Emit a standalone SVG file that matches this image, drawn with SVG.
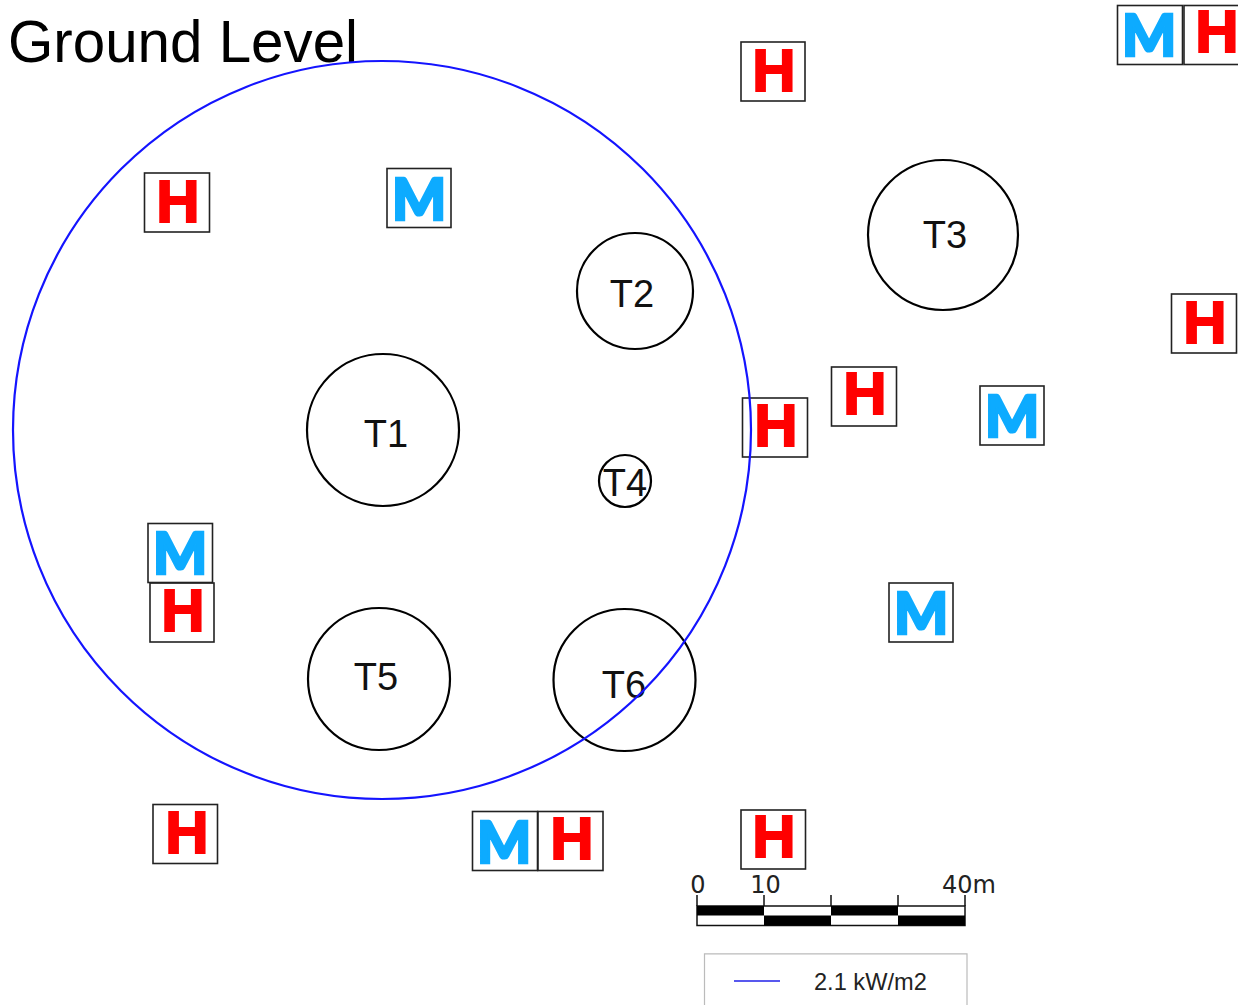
<svg xmlns="http://www.w3.org/2000/svg" width="1238" height="1005" viewBox="0 0 1238 1005">
<style>
.box{fill:#fff;stroke:#222;stroke-width:1.6}
.h{font:700 60px "Liberation Sans",Arial,sans-serif;fill:#ff0000;stroke:#ff0000;stroke-width:2;text-anchor:middle}
.m{font:900 57px Lato,"Liberation Sans",sans-serif;fill:#0dabff;stroke:#0dabff;stroke-width:2.600;text-anchor:middle}
.tank{fill:none;stroke:#000;stroke-width:2.2}
.t{font:38px "Liberation Sans",Arial,sans-serif;fill:#111;text-anchor:middle}
.sc{font:24px "DejaVu Sans",sans-serif;fill:#222}
</style>
<rect width="1238" height="1005" fill="#fff"/>
<g id="title"><text x="8" y="62" font-family="'Liberation Sans',Arial,sans-serif" font-size="58.300" fill="#000">Ground Level</text></g>
<g id="markers">
<g id="h1"><rect class="box" x="741" y="42" width="64" height="59"/><text class="h" x="774" y="91">H</text></g>
<g id="m1"><rect class="box" x="1117.500" y="5.500" width="65" height="59"/><text class="m" x="1149" y="55.500">M</text></g>
<g id="h2"><rect class="box" x="1184" y="5.500" width="65" height="59"/><text class="h" x="1217" y="52">H</text></g>
<g id="h3"><rect class="box" x="1171.500" y="294" width="65" height="59"/><text class="h" x="1205" y="343">H</text></g>
<g id="h4"><rect class="box" x="144.500" y="173" width="65" height="59"/><text class="h" x="178" y="222">H</text></g>
<g id="m2"><rect class="box" x="387" y="168.500" width="64" height="59"/><text class="m" x="419" y="219.500">M</text></g>
<g id="h5"><rect class="box" x="742.500" y="398" width="65" height="59"/><text class="h" x="776" y="446">H</text></g>
<g id="h6"><rect class="box" x="831.500" y="367" width="65" height="59"/><text class="h" x="865" y="414">H</text></g>
<g id="m3"><rect class="box" x="980" y="386" width="64" height="59"/><text class="m" x="1012" y="436.500">M</text></g>
<g id="h7"><rect class="box" x="150" y="583" width="64" height="59"/><text class="h" x="183" y="631">H</text></g>
<g id="m4"><rect class="box" x="148" y="523.500" width="64.500" height="59"/><text class="m" x="180" y="573.500">M</text></g>
<g id="m5"><rect class="box" x="889" y="583" width="64" height="59"/><text class="m" x="921" y="633.500">M</text></g>
<g id="h8"><rect class="box" x="153" y="804.500" width="64.500" height="59"/><text class="h" x="187" y="853">H</text></g>
<g id="m6"><rect class="box" x="472.500" y="811.500" width="65" height="59"/><text class="m" x="504" y="862.500">M</text></g>
<g id="h9"><rect class="box" x="538" y="811.500" width="65" height="59"/><text class="h" x="572" y="859">H</text></g>
<g id="h10"><rect class="box" x="741" y="810" width="64.500" height="59"/><text class="h" x="774" y="857">H</text></g>
</g>
<g id="tanks">
<g id="T1"><circle class="tank" cx="383" cy="430" r="76"/><text class="t" x="386" y="447">T1</text></g>
<g id="T2"><circle class="tank" cx="635" cy="291" r="58"/><text class="t" x="632" y="307">T2</text></g>
<g id="T3"><circle class="tank" cx="943" cy="235" r="75"/><text class="t" x="945" y="248">T3</text></g>
<g id="T4"><circle class="tank" cx="625" cy="481" r="26"/><text class="t" x="625" y="496">T4</text></g>
<g id="T5"><circle class="tank" cx="379" cy="679" r="71"/><text class="t" x="376" y="690">T5</text></g>
<g id="T6"><circle class="tank" cx="624.500" cy="680" r="71"/><text class="t" x="624" y="698">T6</text></g>
</g>
<g id="contour"><circle cx="382" cy="430" r="369" fill="none" stroke="#1414ff" stroke-width="2.200"/></g>
<g id="scalebar">
<rect x="697" y="906" width="268" height="19.500" fill="#fff" stroke="#111" stroke-width="1.500"/>
<path fill="#000" d="M697 906h67v9.500h-67zM831 906h67v9.500h-67zM764 915.500h67v10h-67zM898 915.500h67v10h-67z"/>
<path fill="none" stroke="#111" stroke-width="1.500" d="M697 895v11M764 895v11M831 895v11M898 895v11M965 895v11"/>
<text class="sc" x="698" y="892.500" text-anchor="middle">0</text>
<text class="sc" x="765.500" y="892.500" text-anchor="middle">10</text>
<text class="sc" x="942" y="892.500">40m</text>
</g>
<g id="legend">
<path fill="none" stroke="#bbb" stroke-width="1.200" d="M704.500 1005V953.800H967V1005"/>
<line x1="734" y1="981" x2="780" y2="981" stroke="#2020e8" stroke-width="1.500"/>
<text x="814" y="990" font-family="'Liberation Sans',Arial,sans-serif" font-size="23.600" fill="#222">2.1 kW/m2</text>
</g>
</svg>
